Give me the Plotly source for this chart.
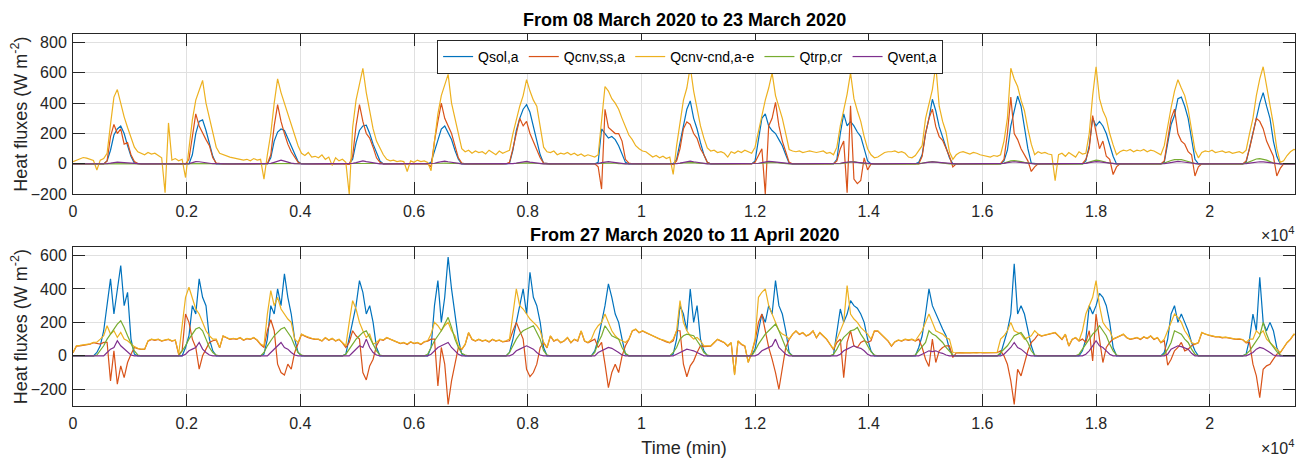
import plotly.graph_objects as go

# ---------------- data (hourly samples) ----------------
time_min = list(range(0, 15 * 1440, 60))  # 15 days, one value per hour

series_names = ["Qsol,a", "Qcnv,ss,a", "Qcnv-cnd,a-e", "Qtrp,cr", "Qvent,a"]
series_colors = ["#0072BD", "#D95319", "#EDB120", "#77AC30", "#7E2F8E"]

x_tick_vals = [0, 2000, 4000, 6000, 8000, 10000, 12000, 14000, 16000, 18000, 20000]
x_tick_text = ["0", "0.2", "0.4", "0.6", "0.8", "1", "1.2", "1.4", "1.6", "1.8", "2"]
top_y_ticks = [-200, 0, 200, 400, 600, 800]
bot_y_ticks = [-200, 0, 200, 400, 600]

top_title = "From 08 March 2020 to 23 March 2020"
bot_title = "From 27 March 2020 to 11 April 2020"

# ---- top panel ----
top_qsol = [
    0,0,0,0,0,0,0,0,0,0,20,90,190,230,250,200,120,50,5,0,0,0,0,0,
    0,0,0,0,0,0,0,0,0,0,0,60,200,280,290,220,130,50,0,0,0,0,0,0,
    0,0,0,0,0,0,0,0,0,0,40,150,210,230,220,170,120,60,15,0,0,0,0,0,
    0,0,0,0,0,0,0,0,0,0,30,140,220,250,255,200,130,70,20,0,0,0,0,0,
    0,0,0,0,0,0,0,0,0,10,80,160,230,250,200,160,90,30,0,0,0,0,0,0,
    0,0,0,0,0,0,0,0,5,90,220,300,360,390,340,250,150,60,5,0,0,0,0,0,
    0,0,0,0,0,0,0,0,0,0,10,230,200,170,180,160,120,60,10,0,0,0,0,0,
    0,0,0,0,0,0,0,0,0,30,150,250,360,415,300,230,140,60,10,0,0,0,0,0,
    0,0,0,0,0,0,0,0,20,150,300,330,250,220,200,160,120,60,5,0,0,0,0,0,
    0,0,0,0,0,0,0,0,30,200,330,250,280,250,210,180,100,20,0,0,0,0,0,0,
    0,0,0,0,0,0,0,0,10,60,200,300,426,350,245,180,110,40,0,0,0,0,0,0,
    0,0,0,0,0,0,0,0,0,20,90,250,350,447,380,250,100,5,0,0,0,0,0,0,
    0,0,0,0,0,0,0,0,0,20,120,300,250,280,250,200,120,50,0,0,0,0,0,0,
    0,0,0,0,0,0,0,0,10,150,260,320,430,440,380,300,150,30,0,0,0,0,0,0,
    0,0,0,0,0,0,0,0,10,100,200,300,400,470,380,300,150,50,0,0,0,0,0,0,
]
top_qcss = [
    0,1,0,-1,0,1,0,0,1,0,20,180,260,200,230,130,140,60,15,2,0,1,0,0,
    0,1,0,-2,1,0,0,1,0,-1,30,180,330,250,200,160,120,40,5,1,0,0,1,0,
    0,0,1,0,0,1,0,0,-2,1,60,250,390,280,200,130,80,40,10,1,0,1,0,0,
    1,0,0,1,0,0,1,0,0,-3,50,250,390,280,200,170,110,40,10,0,1,0,0,1,
    0,1,-1,0,0,1,0,0,1,-20,150,280,400,300,250,200,120,40,5,0,1,0,0,1,
    0,1,0,0,1,0,0,1,10,100,200,300,250,280,200,150,100,40,5,1,0,0,1,0,
    0,1,0,0,1,0,0,1,0,0,-20,-166,360,240,220,200,200,150,30,5,1,0,0,1,
    0,1,0,0,1,0,0,0,-5,20,100,232,277,260,200,168,100,60,10,1,0,1,0,0,
    0,0,1,0,0,1,0,0,10,50,100,-198,250,300,406,250,150,80,10,1,0,0,1,0,
    0,1,0,0,1,0,0,1,20,100,150,-190,383,-100,-130,-110,40,-40,0,1,0,0,1,0,
    0,1,0,0,1,0,0,1,0,50,200,300,361,245,180,155,100,50,-20,0,1,0,0,1,
    0,0,1,0,0,1,0,0,1,30,200,440,200,160,100,60,20,-50,-20,0,1,0,0,1,
    -5,0,1,0,0,1,0,0,1,30,100,318,200,100,150,50,30,-70,-20,0,1,0,0,1,
    0,0,1,0,0,1,0,0,20,150,300,361,200,150,130,80,60,-80,-20,0,1,0,0,1,
    0,0,1,0,0,1,0,0,20,100,200,300,280,232,150,100,50,-80,-30,0,1,0,0,1,
]
top_qcnd = [
    15,25,35,42,38,30,22,-40,25,35,70,260,440,490,390,310,240,170,110,80,70,60,75,65,
    70,55,40,-190,270,25,35,20,30,-90,90,290,420,480,550,400,310,200,110,70,60,55,45,40,
    35,30,25,30,20,35,25,30,-100,60,200,400,560,470,400,340,260,190,120,70,55,75,45,50,
    40,60,30,45,-10,40,20,30,10,-200,240,420,520,630,470,340,230,150,100,60,30,20,25,15,
    20,15,-50,20,10,25,15,20,10,-45,150,330,450,520,590,400,300,180,100,80,90,70,85,75,
    80,65,90,75,60,85,70,80,90,200,300,380,450,555,480,420,380,250,110,80,75,85,60,70,
    65,75,60,70,55,65,50,60,55,45,60,300,510,480,430,400,360,300,250,190,160,120,100,85,
    80,60,45,55,40,50,35,45,-70,120,280,420,500,640,480,360,250,170,105,85,90,75,80,70,
    45,80,70,85,75,90,80,70,110,220,330,420,500,600,450,380,300,200,95,85,80,85,75,80,
    85,80,75,80,85,70,75,60,110,250,360,460,600,430,350,280,180,100,60,40,45,60,75,80,
    80,85,75,80,70,45,40,55,90,120,300,400,490,650,380,280,210,80,30,60,75,80,70,65,
    75,70,60,55,50,45,55,50,60,150,300,630,560,510,420,350,230,130,60,80,70,75,65,60,
    -110,60,70,50,75,60,45,80,65,70,200,450,640,430,350,300,200,125,60,80,90,85,95,80,
    90,85,95,80,90,85,75,60,120,250,370,480,555,500,450,360,220,90,40,75,85,80,90,75,
    80,85,75,80,70,75,80,70,90,200,300,450,560,640,520,400,260,100,10,20,55,80,95,90,
]
top_qtrp = [
    0,0,0,0,0,0,0,0,0,0,0,1,2,3,2,1,0,0,0,0,0,0,0,0,
    0,0,0,0,0,0,0,0,0,0,0,1,2,3,3,2,1,0,0,0,0,0,0,0,
    0,0,0,0,0,0,0,0,0,0,0,2,3,4,3,2,1,0,0,0,0,0,0,0,
    0,0,0,0,0,0,0,0,0,0,0,2,3,4,3,2,1,0,0,0,0,0,0,0,
    0,0,0,0,0,0,0,0,0,0,1,2,4,5,4,3,1,0,0,0,0,0,0,0,
    0,0,0,0,0,0,0,0,0,1,3,5,6,7,6,4,2,1,0,0,0,0,0,0,
    0,0,0,0,0,0,0,0,0,0,1,3,5,6,5,4,2,1,0,0,0,0,0,0,
    0,0,0,0,0,0,0,0,0,1,3,6,8,9,8,5,3,1,0,0,0,0,0,0,
    0,0,0,0,0,0,0,0,0,2,4,7,9,10,9,6,3,1,0,0,0,0,0,0,
    0,0,0,0,0,0,0,0,0,2,5,10,15,15,10,5,2,1,0,0,0,0,0,0,
    0,0,0,0,0,0,0,0,0,5,10,15,15,12,8,5,2,0,0,0,0,0,0,0,
    0,0,0,0,0,0,0,0,0,5,15,20,22,20,15,10,5,1,0,0,0,0,0,0,
    0,0,0,0,0,0,0,0,0,5,12,20,25,22,18,10,5,1,0,0,0,0,0,0,
    0,0,0,0,0,0,0,0,5,15,22,28,30,28,22,15,8,2,0,0,0,0,0,0,
    0,0,0,0,0,0,0,0,5,15,25,32,35,30,25,15,5,1,0,0,0,0,0,0,
]
top_qvent = [
    0,0,0,0,0,0,0,0,0,0,2,5,10,12,10,8,5,2,0,0,0,0,0,0,
    0,0,0,0,0,0,0,0,0,0,2,8,15,14,12,8,4,1,0,0,0,0,0,0,
    0,0,0,0,0,0,0,0,0,0,3,10,18,25,18,10,5,2,0,0,0,0,0,0,
    0,0,0,0,0,0,0,0,0,0,3,8,15,20,15,10,5,2,0,0,0,0,0,0,
    0,0,0,0,0,0,0,0,0,1,4,10,15,18,14,10,5,1,0,0,0,0,0,0,
    0,0,0,0,0,0,0,0,0,2,5,10,14,16,12,8,4,1,0,0,0,0,0,0,
    0,0,0,0,0,0,0,0,0,0,2,8,12,15,12,8,4,1,0,0,0,0,0,0,
    0,0,0,0,0,0,0,0,0,2,5,10,15,18,14,10,5,2,0,0,0,0,0,0,
    0,0,0,0,0,0,0,0,1,4,8,12,16,15,12,8,4,1,0,0,0,0,0,0,
    0,0,0,0,0,0,0,0,1,4,8,12,14,12,10,6,3,1,0,0,0,0,0,0,
    0,0,0,0,0,0,0,0,1,4,8,12,13,12,10,6,3,1,0,0,0,0,0,0,
    0,0,0,0,0,0,0,0,0,3,8,12,14,12,9,6,3,1,0,0,0,0,0,0,
    0,0,0,0,0,0,0,0,0,3,8,12,15,13,10,6,3,1,0,0,0,0,0,0,
    0,0,0,0,0,0,0,0,2,5,10,14,16,14,11,7,3,1,0,0,0,0,0,0,
    0,0,0,0,0,0,0,0,2,5,9,12,14,13,10,6,3,1,0,0,0,0,0,0,
]

# ---- bottom panel ----
bot_qsol = [
    0,0,0,0,0,0,0,20,60,150,300,460,250,400,540,300,380,100,10,0,0,0,0,0,
    0,0,0,0,0,0,0,0,0,50,120,300,250,460,350,300,100,30,0,0,0,0,0,0,
    0,0,0,0,0,0,0,0,10,100,300,250,400,300,490,350,250,100,20,0,0,0,0,0,
    0,0,0,0,0,0,0,0,10,100,200,300,450,380,250,300,200,50,0,0,0,0,0,0,
    0,0,0,0,0,0,0,0,0,50,300,450,200,350,590,400,250,100,10,0,0,0,0,0,
    0,0,0,0,0,0,0,0,20,100,200,300,400,250,500,350,300,200,50,0,0,0,0,0,
    0,0,0,0,0,0,0,0,0,30,100,200,300,430,350,250,200,100,10,0,0,0,0,0,
    0,0,0,0,0,0,0,0,10,100,300,250,150,400,200,300,100,30,0,0,0,0,0,0,
    0,0,0,0,0,0,0,5,40,150,250,200,300,250,450,300,250,150,20,0,0,0,0,0,
    0,0,0,0,0,0,0,5,150,280,200,250,330,300,285,250,200,100,30,0,0,0,0,0,
    0,0,0,0,0,0,0,0,50,120,250,400,300,250,200,160,120,40,0,0,0,0,0,0,
    0,0,0,0,0,0,0,0,10,80,150,250,550,250,300,250,150,60,0,0,0,0,0,0,
    0,0,0,0,0,0,0,0,30,100,300,250,300,374,350,300,200,50,0,0,0,0,0,0,
    0,0,0,0,0,0,0,0,20,100,250,300,200,250,200,150,80,30,0,0,0,0,0,0,
    0,0,0,0,0,0,0,0,10,100,250,150,470,200,150,200,150,50,0,0,0,0,0,0,
]
bot_qcss = [
    18,58,60,62,68,70,78,75,70,80,80,-150,30,-170,-60,-130,-40,10,50,43,38,38,88,98,
    93,98,88,93,98,88,93,8,30,250,200,100,50,-80,0,40,80,90,95,48,118,108,98,103,
    98,108,93,103,98,108,93,68,50,150,216,150,-50,-100,-115,-50,-80,20,78,128,118,108,103,98,
    98,88,108,93,103,88,98,78,50,80,150,120,100,-100,-144,-60,-20,60,98,93,108,98,88,78,
    73,78,68,83,73,78,68,83,88,100,100,-180,50,-50,-290,-150,-50,50,38,68,138,98,88,98,
    88,93,83,98,88,93,83,88,90,150,200,150,100,-80,-125,-100,-50,50,78,48,118,88,98,78,
    88,108,78,98,88,148,88,78,90,100,50,80,-50,-190,-100,-50,-100,0,60,98,148,158,138,148,
    138,128,118,108,98,93,83,78,90,150,150,-50,-125,-60,-30,20,60,55,58,58,78,98,88,78,
    58,78,-110,88,68,58,-38,18,90,200,250,150,50,-20,-100,-200,-80,50,98,128,148,128,138,118,
    128,148,108,138,118,98,68,38,80,100,-130,80,150,60,50,80,90,80,90,148,148,128,108,88,
    58,83,93,88,98,93,98,88,100,50,-20,-64,100,-40,30,50,60,60,-10,17,19,17,19,17,
    19,17,19,18,19,17,19,19,30,0,-50,-150,-290,-80,-120,-50,30,80,100,128,118,123,128,133,
    138,118,98,128,58,98,108,88,100,80,150,-30,250,100,-40,50,80,100,108,118,128,108,98,103,
    108,98,113,103,118,98,108,78,90,-56,-20,30,50,80,30,40,60,70,78,138,128,123,118,113,
    113,108,110,106,103,98,100,96,78,80,-50,-120,-250,-80,-60,-50,-20,10,18,48,78,98,128,123,
]
bot_qcnd = [
    20,60,62,65,70,72,80,82,100,120,180,130,150,110,140,100,90,70,55,45,40,40,90,100,
    95,100,90,95,100,90,95,10,200,350,410,350,280,250,200,150,120,100,100,50,120,110,100,105,
    100,110,95,105,100,110,95,70,60,250,390,300,350,280,250,220,200,100,80,130,120,110,105,100,
    100,90,110,95,105,90,100,80,60,200,330,280,200,150,110,130,70,80,100,95,110,100,90,80,
    75,80,70,85,75,80,70,85,90,130,200,180,150,180,200,150,120,60,40,70,140,100,90,100,
    90,95,85,100,90,95,85,90,100,250,400,300,280,250,220,200,180,150,80,50,120,90,100,80,
    90,110,80,100,90,150,90,80,100,150,180,200,250,200,150,120,100,90,80,100,150,160,140,150,
    140,130,120,110,100,95,85,80,100,150,330,200,150,120,100,110,90,60,60,60,80,100,90,80,
    60,80,-115,90,70,60,-40,20,100,350,380,400,300,250,200,150,130,120,100,130,150,130,140,120,
    130,150,110,140,120,100,70,40,100,150,200,420,250,220,200,170,150,130,100,150,150,130,110,90,
    60,85,95,90,100,95,100,90,120,150,200,250,200,150,140,130,110,100,20,18,20,18,20,18,
    20,18,20,19,20,18,20,20,100,120,150,200,150,140,130,100,110,120,150,130,120,125,130,135,
    140,120,100,130,60,100,110,90,150,250,300,350,450,300,200,170,150,100,110,120,130,110,100,105,
    110,100,115,105,120,100,110,80,100,150,200,250,230,200,150,120,80,70,80,140,130,125,120,115,
    115,110,112,108,105,100,102,98,80,100,100,150,130,150,100,80,60,40,20,50,80,100,130,125,
]
bot_qtrp = [
    0,0,0,0,0,0,0,5,30,60,100,130,160,190,210,170,120,70,30,5,0,0,0,0,
    0,0,0,0,0,0,0,0,30,60,100,130,160,170,150,100,50,20,5,0,0,0,0,0,
    0,0,0,0,0,0,0,0,20,60,90,120,140,160,170,140,110,60,20,5,0,0,0,0,
    0,0,0,0,0,0,0,0,10,40,70,100,120,140,150,110,70,30,5,0,0,0,0,0,
    0,0,0,0,0,0,0,0,10,50,90,120,150,190,230,170,100,50,15,5,0,0,0,0,
    0,0,0,0,0,0,0,0,20,60,100,130,150,160,170,180,140,100,30,5,0,0,0,0,
    0,0,0,0,0,0,0,0,0,20,80,120,180,150,120,110,100,50,15,0,0,0,0,0,
    0,0,0,0,0,0,0,0,20,50,100,120,130,125,120,90,60,20,5,0,0,0,0,0,
    0,0,0,0,0,0,0,0,30,70,100,130,150,170,190,150,100,50,15,0,0,0,0,0,
    0,0,0,0,0,0,0,10,40,80,110,130,150,155,170,130,100,60,25,5,0,0,0,0,
    0,0,0,0,0,0,0,5,30,60,80,150,130,120,100,80,50,30,5,0,0,0,0,0,
    0,0,0,0,0,0,0,0,20,40,60,90,120,130,140,110,80,30,5,0,0,0,0,0,
    0,0,0,0,0,0,0,10,40,70,100,130,150,180,150,120,70,30,5,0,0,0,0,0,
    0,0,0,0,0,0,0,0,10,40,80,150,140,130,100,80,40,10,0,0,0,0,0,0,
    0,0,0,0,0,0,0,0,10,30,60,90,120,200,130,80,50,25,5,0,0,0,0,0,
]
bot_qvent = [
    0,0,0,0,0,0,0,0,0,0,20,40,50,90,60,40,20,5,0,0,0,0,0,0,
    0,0,0,0,0,0,0,0,0,10,30,40,50,80,40,20,5,0,0,0,0,0,0,0,
    0,0,0,0,0,0,0,0,0,0,20,40,60,80,50,40,20,5,0,0,0,0,0,0,
    0,0,0,0,0,0,0,0,0,0,20,40,60,50,100,50,20,5,0,0,0,0,0,0,
    0,0,0,0,0,0,0,0,0,10,30,50,60,70,80,50,30,10,0,0,0,0,0,0,
    0,0,0,0,0,0,0,0,0,10,30,40,50,60,50,40,20,5,0,0,0,0,0,0,
    0,0,0,0,0,0,0,0,0,0,20,30,40,50,45,35,20,5,0,0,0,0,0,0,
    0,0,0,0,0,0,0,0,0,10,20,30,40,35,30,20,10,0,0,0,0,0,0,0,
    0,0,0,0,0,0,0,0,0,10,30,40,50,60,100,50,30,10,0,0,0,0,0,0,
    0,0,0,0,0,0,0,0,0,10,30,40,50,60,50,45,30,10,0,0,0,0,0,0,
    0,0,0,0,0,0,0,0,0,10,20,30,25,30,20,15,5,0,0,0,0,0,0,0,
    0,0,0,0,0,0,0,0,0,10,30,50,80,50,40,20,5,0,0,0,0,0,0,0,
    0,0,0,0,0,0,0,0,0,10,30,60,90,60,50,30,10,0,0,0,0,0,0,0,
    0,0,0,0,0,0,0,0,0,10,40,50,60,55,45,40,15,0,0,0,0,0,0,0,
    0,0,0,0,0,0,0,0,0,10,20,40,50,45,35,20,5,0,0,0,0,0,0,0,
]

top_series = [top_qsol, top_qcss, top_qcnd, top_qtrp, top_qvent]
bot_series = [bot_qsol, bot_qcss, bot_qcnd, bot_qtrp, bot_qvent]

# ---------------- figure ----------------
FONT = "Liberation Sans, Arial, Helvetica, sans-serif"
INK = "#262626"
LABEL_SIZE = 18

fig = go.Figure()
for name, color, vals in zip(series_names, series_colors, top_series):
    fig.add_trace(go.Scatter(x=time_min, y=vals, mode="lines", name=name,
                             line=dict(color=color, width=1.2),
                             xaxis="x", yaxis="y", showlegend=True))
for name, color, vals in zip(series_names, series_colors, bot_series):
    fig.add_trace(go.Scatter(x=time_min, y=vals, mode="lines", name=name,
                             line=dict(color=color, width=1.2),
                             xaxis="x2", yaxis="y2", showlegend=False))

axis_style = dict(showline=True, linecolor=INK, linewidth=1, mirror="ticks",
                  ticks="inside", ticklen=12, tickcolor=INK, tickwidth=1,
                  showgrid=True, gridcolor="#e0e0e0", gridwidth=1, zeroline=False,
                  tickfont=dict(family=FONT, size=16, color=INK))

# the page body has an 8 px default margin, so the figure is 8 px smaller
fig.update_layout(
    width=1296, height=455,
    margin=dict(l=65, r=8, t=26, b=50),
    paper_bgcolor="white", plot_bgcolor="white",
    font=dict(family=FONT, size=16, color=INK),
    xaxis=dict(domain=[0, 1], anchor="y", range=[0, 21500],
               tickvals=x_tick_vals, ticktext=x_tick_text,
               ticklabelstandoff=3, **axis_style),
    yaxis=dict(domain=[0.5693, 1], anchor="x", range=[-200, 856],
               tickvals=top_y_ticks, ticklabelstandoff=2,
               title=dict(text="Heat fluxes (W m<sup>-2</sup>)", standoff=2,
                          font=dict(family=FONT, size=LABEL_SIZE, color=INK)),
               **axis_style),
    xaxis2=dict(domain=[0, 1], anchor="y2", range=[0, 21500],
                tickvals=x_tick_vals, ticktext=x_tick_text, ticklabelstandoff=3,
                title=dict(text="Time (min)", standoff=10,
                           font=dict(family=FONT, size=LABEL_SIZE, color=INK)),
                **axis_style),
    yaxis2=dict(domain=[0, 0.4266], anchor="x2", range=[-300, 649],
                tickvals=bot_y_ticks, ticklabelstandoff=2,
                title=dict(text="Heat fluxes (W m<sup>-2</sup>)", standoff=2,
                           font=dict(family=FONT, size=LABEL_SIZE, color=INK)),
                **axis_style),
    legend=dict(orientation="h", x=0.505, xanchor="center", y=0.984, yanchor="top",
                bgcolor="white", bordercolor=INK, borderwidth=1,
                font=dict(family=FONT, size=14, color="#000000"),
                itemwidth=30, tracegroupgap=0),
    showlegend=True,
)

annotations = [
    dict(text="<b>" + top_title + "</b>", x=0.5, y=1.0369, xref="paper", yref="paper",
         xanchor="center", yanchor="middle", showarrow=False,
         font=dict(family=FONT, size=LABEL_SIZE, color="#000000")),
    dict(text="<b>" + bot_title + "</b>", x=0.5, y=0.4591, xref="paper", yref="paper",
         xanchor="center", yanchor="middle", showarrow=False,
         font=dict(family=FONT, size=LABEL_SIZE, color="#000000")),
    dict(text="\u00d710<sup>4</sup>", x=1.0008, y=0.4617, xref="paper", yref="paper",
         xanchor="right", yanchor="middle", showarrow=False,
         font=dict(family=FONT, size=16, color=INK)),
    dict(text="\u00d710<sup>4</sup>", x=1.0008, y=-0.1108, xref="paper", yref="paper",
         xanchor="right", yanchor="middle", showarrow=False,
         font=dict(family=FONT, size=16, color=INK)),
]
fig.update_layout(annotations=annotations)

fig.write_html("out.html")
